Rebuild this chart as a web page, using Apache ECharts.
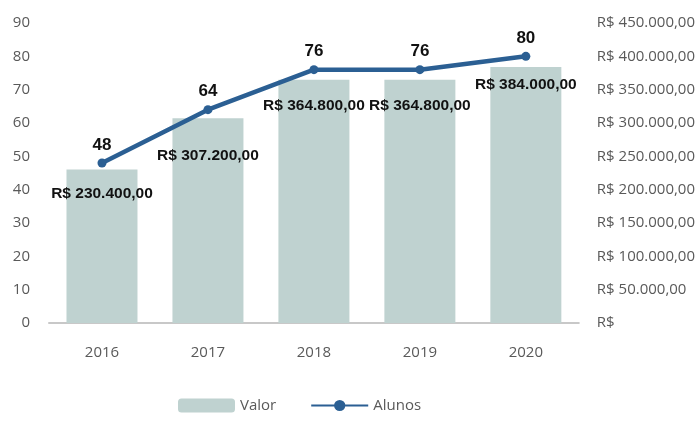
<!DOCTYPE html>
<html>
<head>
<meta charset="utf-8">
<script src="https://cdn.jsdelivr.net/npm/echarts@6/dist/echarts.min.js"></script>
<style>
  html, body { margin: 0; padding: 0; background: #fff; }
  #chart { width: 698px; height: 421px; }
</style>
</head>
<body>
<div id="chart"></div>
<script>
// anos e valores
var anos = ['2016', '2017', '2018', '2019', '2020'];
var valor = [230400, 307200, 364800, 364800, 384000];
var alunos = [48, 64, 76, 76, 80];

// deslocamento vertical dos rótulos das barras (como no original)
var offsetRotulo = [11, 25, 13, 13, 5];

function moeda(v) {
  if (v === 0) return 'R$';
  var s = String(Math.round(v)).replace(/\B(?=(\d{3})+(?!\d))/g, '.');
  return 'R$ ' + s + ',00';
}

var chart = echarts.init(document.getElementById('chart'));
var fonteEixo = '"Open Sans", "DejaVu Sans", sans-serif';
var fonteRotulo = '"Liberation Sans", Arial, sans-serif';

var option = {
  animation: false,
  grid: { left: 49, right: 118, top: 23, bottom: 98 },
  legend: {
    bottom: 3,
    left: 173,
    itemWidth: 57,
    itemHeight: 14,
    itemGap: 34,
    textStyle: { color: '#595959', fontSize: 15, fontFamily: fonteEixo },
    data: ['Valor', 'Alunos']
  },
  xAxis: {
    type: 'category',
    data: anos,
    axisLine: { lineStyle: { color: '#C8C8C8', width: 2 } },
    axisTick: { show: false },
    axisLabel: { color: '#595959', fontSize: 15, fontFamily: fonteEixo, margin: 22 }
  },
  yAxis: [{
    type: 'value',
    min: 0, max: 90, interval: 10,
    splitLine: { show: false },
    axisLine: { show: false },
    axisTick: { show: false },
    axisLabel: { color: '#595959', fontSize: 15, fontFamily: fonteEixo, margin: 19 }
  }, {
    type: 'value',
    min: 0, max: 450000, interval: 50000,
    position: 'right',
    splitLine: { show: false },
    axisLine: { show: false },
    axisTick: { show: false },
    axisLabel: {
      color: '#595959', fontSize: 15, fontFamily: fonteEixo, margin: 18,
      formatter: moeda
    }
  }],
  series: [{
    name: 'Valor',
    type: 'bar',
    yAxisIndex: 1,
    barWidth: '67%',
    itemStyle: { color: '#BFD2D0' },
    data: valor.map(function (v, i) {
      return {
        value: v,
        label: { offset: [0, offsetRotulo[i]] }
      };
    }),
    label: {
      show: true,
      position: 'insideTop',
      color: '#111',
      fontSize: 15.5,
      fontWeight: 'bold',
      fontFamily: fonteRotulo,
      formatter: function (p) { return moeda(p.value); }
    }
  }, {
    name: 'Alunos',
    type: 'line',
    yAxisIndex: 0,
    data: alunos,
    symbol: 'circle',
    symbolSize: 9,
    lineStyle: { color: '#2B5F93', width: 4.5 },
    itemStyle: { color: '#2B5F93' },
    label: {
      show: true,
      position: 'top',
      distance: 5,
      color: '#111',
      fontSize: 17,
      fontWeight: 'bold',
      fontFamily: fonteRotulo
    }
  }]
};
chart.setOption(option);
</script>
</body>
</html>
